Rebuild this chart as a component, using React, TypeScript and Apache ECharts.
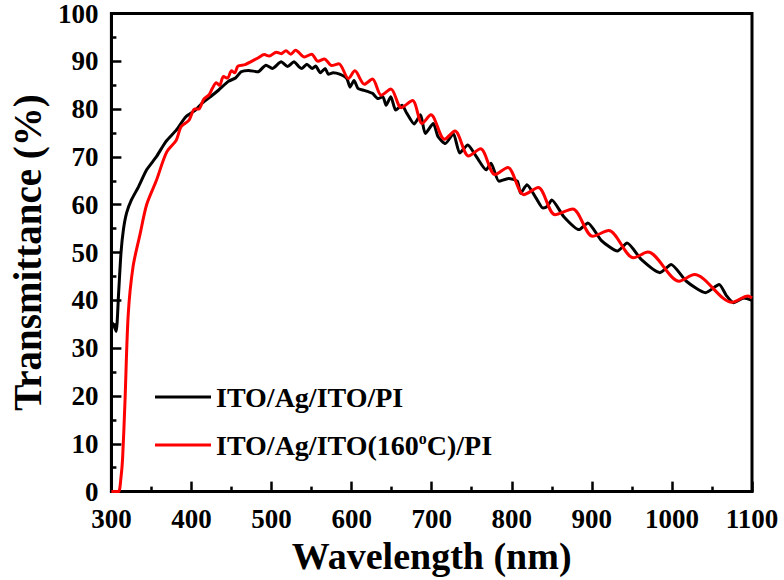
import React, { useEffect, useRef } from "react";
import * as echarts from "echarts";

const FONT = "'Liberation Serif', 'Times New Roman', serif";

const seriesNames = ["ITO/Ag/ITO/PI", "ITO/Ag/ITO(160°C)/PI"];

const blackWl = [
  300, 303, 306, 309, 312, 315, 319, 325, 334, 344, 356, 368, 381, 393, 405, 413, 426, 434, 446, 455,
  462, 471, 483, 493, 501, 512, 520, 528, 534, 538, 544, 551, 555, 561, 567, 571, 577, 585, 594, 598,
  603, 608, 614, 620, 626, 633, 639, 643, 649, 655, 663, 669, 678, 686, 692, 702, 708, 717, 727, 735,
  745, 756, 768, 774, 784, 796, 807, 811, 819, 830, 839, 844, 850, 865, 884, 895, 912, 932, 944, 962,
  985, 999, 1018, 1042, 1059, 1068, 1077, 1090, 1100,
];
const blackT = [
  35.5, 34.8, 33.5, 41.5, 50, 54.8, 58.3, 61, 63.8, 67.3, 70, 73.2, 75.6, 78.4, 79.8, 81.2, 82.9, 84, 85.8, 86.5,
  87.8, 88.1, 87.8, 89.2, 88.5, 89.9, 88.9, 89.9, 88.9, 88.5, 89.4, 88.5, 89.0, 87.6, 88.5, 87.3, 87.6, 87.3, 86.4, 84.6,
  86.0, 84.3, 84.0, 83.7, 83.3, 82.2, 82.6, 80.8, 82.6, 79.8, 80.8, 79.1, 76.9, 78.8, 74.9, 77.0, 74.2, 72.8, 74.9, 70.8,
  72.5, 70.0, 67.3, 68.7, 64.9, 65.5, 64.9, 62.4, 64.2, 61.5, 59.3, 59.6, 61.0, 57.5, 54.8, 56.2, 52.5, 50.3, 52.0, 48.5,
  45.8, 47.5, 44.0, 41.6, 43.3, 41.0, 39.5, 40.5, 40.0,
];

const redWl = [
  300, 305, 309, 312, 314, 317, 321, 327, 336, 344, 356, 369, 381, 387, 397, 404, 409, 415, 422, 426,
  431, 435, 440, 445, 450, 454, 458, 467, 475, 483, 491, 497, 506, 512, 518, 524, 530, 541, 550, 558,
  566, 575, 584, 596, 604, 616, 626, 637, 649, 662, 676, 688, 699, 716, 729, 746, 761, 779, 795, 815,
  833, 854, 876, 901, 921, 952, 970, 1009, 1028, 1075, 1095, 1100,
];
const redT = [
  0, 0, 0, 3, 7, 19, 37, 47, 54, 60, 65, 71, 73.5, 76.3, 77.7, 80, 80, 82, 83, 84.3,
  85.5, 85.0, 86.8, 86.5, 88.0, 87.6, 89.0, 89.3, 90.0, 90.7, 91.4, 91.1, 91.9, 91.6, 92.2, 91.5, 92.3, 90.9, 91.5, 90.0,
  90.5, 89.1, 89.5, 86.4, 88.0, 85.2, 86.3, 82.9, 84.2, 80.3, 81.8, 77.0, 78.8, 73.7, 75.4, 70.2, 71.7, 66.3, 67.8, 62.1,
  63.6, 57.9, 59.1, 53.4, 54.6, 48.9, 50.1, 44.0, 45.4, 39.6, 40.9, 40.5,
];

const xTicks = { min: 300, max: 1100, interval: 100 };
const yTicks = { min: 0, max: 100, interval: 10 };

const pairs = (xs: number[], ys: number[]) => xs.map((x, i) => [x, ys[i]]);

export default function App() {
  const ref = useRef<HTMLDivElement>(null);
  useEffect(() => {
    if (!ref.current) return;
    const chart = echarts.init(ref.current, null, { renderer: "svg" });
    const labelStyle = {
      color: "#000",
      fontFamily: FONT,
      fontWeight: "bold",
      fontSize: 27,
      lineHeight: 26,
      formatter: (v: number) => String(v),
    };
    const axisCommon = {
      axisLine: { show: true, lineStyle: { color: "#000", width: 3 } },
      axisTick: { show: true, inside: true, length: 10, lineStyle: { color: "#000", width: 2.5 } },
      minorTick: { show: true, splitNumber: 2, length: 5, lineStyle: { color: "#000", width: 2.5 } },
      splitLine: { show: false },
      nameLocation: "middle",
    };
    chart.setOption({
      animation: false,
      backgroundColor: "#fff",
      grid: {
        left: 101,
        right: 32,
        top: 13,
        bottom: 87,
        show: true,
        borderColor: "#000",
        borderWidth: 3,
        containLabel: false,
      },
      xAxis: {
        type: "value",
        ...xTicks,
        ...axisCommon,
        axisLabel: { ...labelStyle, margin: 14 },
        name: "Wavelength (nm)",
        nameGap: 42,
        nameTextStyle: { color: "#000", fontFamily: FONT, fontWeight: "bold", fontSize: 38 },
      },
      yAxis: {
        type: "value",
        ...yTicks,
        ...axisCommon,
        axisLabel: { ...labelStyle, margin: 13 },
        name: "Transmittance (%)",
        nameGap: 57,
        nameRotate: 90,
        nameTextStyle: { color: "#000", fontFamily: FONT, fontWeight: "bold", fontSize: 39 },
      },
      legend: {
        orient: "vertical",
        left: 150,
        top: 378,
        icon: "rect",
        itemWidth: 56,
        itemHeight: 3,
        itemGap: 19,
        data: seriesNames,
        textStyle: {
          color: "#000",
          fontFamily: FONT,
          fontWeight: "bold",
          fontSize: 28,
          rich: {
            a: { color: "#000", fontFamily: FONT, fontWeight: "bold", fontSize: 28, lineHeight: 30 },
            s: { color: "#000", fontFamily: FONT, fontWeight: "bold", fontSize: 16, lineHeight: 16, verticalAlign: "top" },
          },
        },
        formatter: (name: string) => {
          if (name.indexOf("°") >= 0) {
            const [pre, post] = name.split("°");
            return "{a|" + pre + "}{s|o}{a|" + post + "}";
          }
          return "{a|" + name + "}";
        },
      },
      series: [
        {
          name: seriesNames[0],
          type: "line",
          data: pairs(blackWl, blackT),
          symbol: "none",
          smooth: 0.2,
          lineStyle: { color: "#000", width: 3 },
          itemStyle: { color: "#000" },
        },
        {
          name: seriesNames[1],
          type: "line",
          data: pairs(redWl, redT),
          symbol: "none",
          smooth: 0.3,
          lineStyle: { color: "#ff0000", width: 3 },
          itemStyle: { color: "#ff0000" },
        },
      ],
    });
    return () => chart.dispose();
  }, []);
  return (
    <div
      ref={ref}
      style={{ position: "fixed", left: 0, top: 0, width: 784, height: 580 }}
    />
  );
}
